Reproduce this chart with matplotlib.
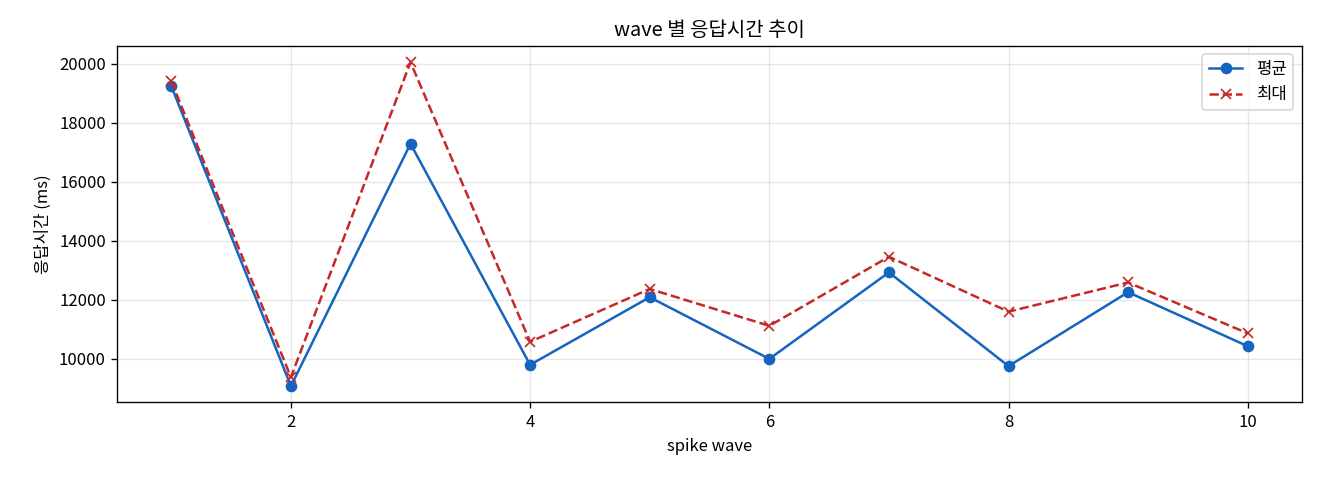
import matplotlib
matplotlib.use('Agg')
import matplotlib.pyplot as plt

plt.rcParams['font.family'] = ['Noto Sans CJK KR', 'DejaVu Sans']
plt.rcParams['axes.unicode_minus'] = False

waves = [1, 2, 3, 4, 5, 6, 7, 8, 9, 10]
avg_ms = [19240, 9080, 17290, 9800, 12090, 10000, 12930, 9755, 12260, 10430]
max_ms = [19410, 9380, 20050, 10580, 12370, 11120, 13460, 11600, 12590, 10865]

fig, ax = plt.subplots(figsize=(11, 4), dpi=120)
ax.plot(waves, avg_ms, marker='o', color='#1565C0', label='평균')
ax.plot(waves, max_ms, marker='x', linestyle='--', color='#C62828', label='최대')
ax.set_title('wave 별 응답시간 추이')
ax.set_xlabel('spike wave')
ax.set_ylabel('응답시간 (ms)')
ax.grid(True, alpha=0.3)
ax.legend(loc='upper right')

fig.subplots_adjust(left=0.089, right=0.986, top=0.904, bottom=0.162)
fig.savefig('out.png')
